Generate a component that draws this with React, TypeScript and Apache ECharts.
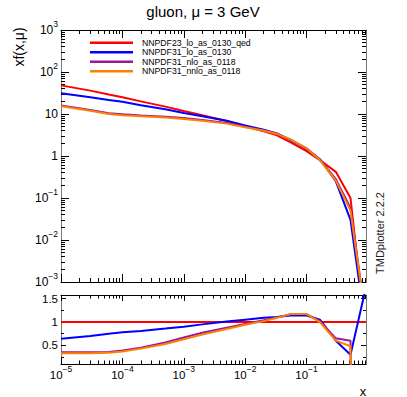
import React, { useEffect, useRef } from 'react';
import * as echarts from 'echarts';

// ---------- data ----------
const X_VALUES = [1e-5, 3e-5, 6e-5, 1e-4, 2e-4, 5e-4, 1e-3, 2e-3, 5e-3, 1e-2, 2e-2, 3.3e-2, 5.5e-2, 0.1, 0.165, 0.3, 0.52, 0.93];

const SERIES_NAMES = ['NNPDF23_lo_as_0130_qed', 'NNPDF31_lo_as_0130', 'NNPDF31_nlo_as_0118', 'NNPDF31_nnlo_as_0118'];
const SERIES_COLORS = ['#ff0000', '#0000ff', '#9a1a9a', '#ff8000'];

// x f(x, mu) at mu = 3 GeV
const RED_VALUES = [48, 36, 29, 25, 20, 15, 11.8, 9.3, 6.8, 5.1, 3.9, 3.1, 2.1, 1.3, 0.8, 0.42, 0.1, 4.5e-5];
const BLUE_VALUES = [31, 25, 21.5, 19.5, 16.2, 12.9, 10.6, 8.8, 6.9, 5.35, 4.25, 3.45, 2.4, 1.48, 0.84, 0.25, 0.03, 7e-5];
const PURPLE_VALUES = [16, 12.5, 10.4, 9.8, 9.2, 8.6, 8.0, 7.2, 6.1, 4.95, 4.05, 3.4, 2.45, 1.52, 0.82, 0.28, 0.058, 1.2e-4];
const ORANGE_VALUES = [15.2, 12, 10, 9.4, 8.8, 8.2, 7.6, 6.9, 5.9, 4.85, 4.0, 3.35, 2.45, 1.52, 0.8, 0.26, 0.05, 1.2e-4];

// ratio to NNPDF23_lo_as_0130_qed
const RED_RATIO = [1, 1, 1, 1, 1, 1, 1, 1, 1, 1, 1, 1, 1, 1, 1, 1, 1, 1];
const BLUE_RATIO = [0.64, 0.70, 0.75, 0.78, 0.81, 0.86, 0.90, 0.95, 1.01, 1.05, 1.09, 1.11, 1.14, 1.14, 1.05, 0.60, 0.30, 1.75];
const PURPLE_RATIO = [0.35, 0.35, 0.36, 0.39, 0.45, 0.56, 0.67, 0.77, 0.88, 0.96, 1.04, 1.10, 1.17, 1.17, 1.02, 0.65, 0.60, -40];
const ORANGE_RATIO = [0.33, 0.33, 0.34, 0.37, 0.43, 0.53, 0.63, 0.73, 0.85, 0.94, 1.02, 1.09, 1.17, 1.17, 1.00, 0.60, 0.48, -60];

const TOP_VALUES = [RED_VALUES, BLUE_VALUES, PURPLE_VALUES, ORANGE_VALUES];
const RATIO_VALUES = [RED_RATIO, BLUE_RATIO, PURPLE_RATIO, ORANGE_RATIO];

// axis ranges and tick labels
const X_MIN = 1e-5;
const X_MAX = 0.93;
const X_LABEL_TICKS = [1e-5, 1e-4, 1e-3, 1e-2, 1e-1];
const Y_TOP_MIN = 1e-3;
const Y_TOP_MAX = 1e3;
const Y_TOP_LABEL_TICKS = [1e-3, 1e-2, 1e-1, 1, 10, 100, 1000];
const Y_RATIO_MIN = 0.1;
const Y_RATIO_MAX = 1.58;
const Y_RATIO_LABEL_TICKS = [0.5, 1, 1.5];
const Y_RATIO_MINOR_TICKS = [0.25, 0.75, 1.25];

const TITLE = 'gluon, \u03bc = 3 GeV';
const Y_TITLE = 'xf(x,\u03bc)';
const X_TITLE = 'x';
const SIDE_TEXT = 'TMDplotter 2.2.2';

// ---------- helpers ----------
const FONT = "'Liberation Sans', Arial, Helvetica, sans-serif";
const lg = (v: number) => Math.log10(v);

function logMinor(min: number, max: number): number[] {
  const out: number[] = [];
  const lo = Math.floor(lg(min));
  const hi = Math.ceil(lg(max));
  for (let d = lo; d <= hi; d++) {
    for (let k = 2; k <= 9; k++) {
      const v = lg(k) + d;
      if (v > lg(min) && v < lg(max)) out.push(v);
    }
  }
  return out;
}

function powLabel(v: number): string {
  const e = Math.round(v);
  if (e === 0) return '{b|1}';
  if (e === 1) return '{b|10}';
  return `{b|10}{s|${e < 0 ? '\u2212' : ''}${Math.abs(e)}}`;
}

function richStyle(base: number, sup: number) {
  return {
    b: { fontSize: base, lineHeight: 22, verticalAlign: 'middle', fontFamily: FONT, color: '#000' },
    s: { fontSize: sup, lineHeight: 22, verticalAlign: 'top', fontFamily: FONT, color: '#000' },
  };
}

type AxOpt = {
  gridIndex: number;
  position: string;
  min: number;
  max: number;
  ticks: number[];
  tickLen: number;
  line?: string;
  label?: any;
};

function mkAxis(o: AxOpt) {
  return {
    type: 'value',
    gridIndex: o.gridIndex,
    position: o.position,
    min: o.min,
    max: o.max,
    axisLine: { show: !!o.line, onZero: false, lineStyle: { color: o.line || '#000', width: 1 } },
    axisTick: { show: true, inside: true, length: o.tickLen, customValues: o.ticks, lineStyle: { color: '#000', width: 1 } },
    axisLabel: o.label ? o.label : { show: false },
    splitLine: { show: false },
    minorTick: { show: false },
    axisPointer: { show: false },
  };
}

export default function App() {
  const ref = useRef<HTMLDivElement>(null);

  useEffect(() => {
    if (!ref.current) return;
    const chart = echarts.init(ref.current, undefined, { renderer: 'svg' });

    const xMin = lg(X_MIN);
    const xMax = lg(X_MAX);
    const xMajor = X_LABEL_TICKS.map(lg);
    const xMinor = logMinor(X_MIN, X_MAX);
    const yTMin = lg(Y_TOP_MIN);
    const yTMax = lg(Y_TOP_MAX);
    const yTMajor = Y_TOP_LABEL_TICKS.map(lg);
    const yTMinor = logMinor(Y_TOP_MIN, Y_TOP_MAX);

    const V_LINE = '#777';
    const H_LINE = '#000';

    const xAxes = [
      // grid 0 (upper panel)
      mkAxis({ gridIndex: 0, position: 'bottom', min: xMin, max: xMax, ticks: xMajor, tickLen: 8, line: H_LINE }),
      mkAxis({ gridIndex: 0, position: 'bottom', min: xMin, max: xMax, ticks: xMinor, tickLen: 4 }),
      mkAxis({ gridIndex: 0, position: 'top', min: xMin, max: xMax, ticks: xMajor, tickLen: 8, line: H_LINE }),
      mkAxis({ gridIndex: 0, position: 'top', min: xMin, max: xMax, ticks: xMinor, tickLen: 4 }),
      // grid 1 (ratio panel)
      mkAxis({
        gridIndex: 1, position: 'bottom', min: xMin, max: xMax, ticks: xMajor, tickLen: 6, line: H_LINE,
        label: {
          show: true, customValues: xMajor, margin: 0, formatter: (v: number) => powLabel(v),
          rich: richStyle(11.5, 8.5),
        },
      }),
      mkAxis({ gridIndex: 1, position: 'bottom', min: xMin, max: xMax, ticks: xMinor, tickLen: 3.5 }),
      mkAxis({ gridIndex: 1, position: 'top', min: xMin, max: xMax, ticks: xMajor, tickLen: 6, line: H_LINE }),
      mkAxis({ gridIndex: 1, position: 'top', min: xMin, max: xMax, ticks: xMinor, tickLen: 3.5 }),
    ];

    const yAxes = [
      mkAxis({
        gridIndex: 0, position: 'left', min: yTMin, max: yTMax, ticks: yTMajor, tickLen: 8, line: V_LINE,
        label: {
          show: true, customValues: yTMajor, margin: 3, formatter: (v: number) => powLabel(v),
          rich: richStyle(12, 8.5),
        },
      }),
      mkAxis({ gridIndex: 0, position: 'left', min: yTMin, max: yTMax, ticks: yTMinor, tickLen: 4 }),
      mkAxis({ gridIndex: 0, position: 'right', min: yTMin, max: yTMax, ticks: yTMajor, tickLen: 8, line: V_LINE }),
      mkAxis({ gridIndex: 0, position: 'right', min: yTMin, max: yTMax, ticks: yTMinor, tickLen: 4 }),
      mkAxis({
        gridIndex: 1, position: 'left', min: Y_RATIO_MIN, max: Y_RATIO_MAX, ticks: Y_RATIO_LABEL_TICKS, tickLen: 5, line: V_LINE,
        label: {
          show: true, customValues: Y_RATIO_LABEL_TICKS, margin: 3,
          formatter: (v: number) => String(v), fontSize: 11.5, fontFamily: FONT, color: '#000',
        },
      }),
      mkAxis({ gridIndex: 1, position: 'left', min: Y_RATIO_MIN, max: Y_RATIO_MAX, ticks: Y_RATIO_MINOR_TICKS, tickLen: 3 }),
      mkAxis({ gridIndex: 1, position: 'right', min: Y_RATIO_MIN, max: Y_RATIO_MAX, ticks: Y_RATIO_LABEL_TICKS, tickLen: 5, line: V_LINE }),
      mkAxis({ gridIndex: 1, position: 'right', min: Y_RATIO_MIN, max: Y_RATIO_MAX, ticks: Y_RATIO_MINOR_TICKS, tickLen: 3 }),
    ];

    const topSeries = SERIES_NAMES.map((name, i) => ({
      type: 'line',
      name,
      xAxisIndex: 0,
      yAxisIndex: 0,
      data: X_VALUES.map((x, j) => [lg(x), lg(TOP_VALUES[i][j])]),
      symbol: 'none',
      showSymbol: false,
      clip: true,
      color: SERIES_COLORS[i],
      itemStyle: { color: SERIES_COLORS[i] },
      lineStyle: { color: SERIES_COLORS[i], width: 2 },
      z: 2 + i,
    }));

    const ratioSeries = SERIES_NAMES.map((name, i) => ({
      type: 'line',
      name,
      xAxisIndex: 4,
      yAxisIndex: 4,
      data: X_VALUES.map((x, j) => [lg(x), RATIO_VALUES[i][j]]),
      symbol: 'none',
      showSymbol: false,
      clip: true,
      color: SERIES_COLORS[i],
      itemStyle: { color: SERIES_COLORS[i] },
      lineStyle: { color: SERIES_COLORS[i], width: 2 },
      z: 2 + i,
    }));

    chart.setOption({
      animation: false,
      backgroundColor: '#ffffff',
      textStyle: { fontFamily: FONT },
      grid: [
        { left: 61, top: 30, width: 305, height: 252, containLabel: false },
        { left: 61, top: 295, width: 305, height: 69, containLabel: false },
      ],
      xAxis: xAxes,
      yAxis: yAxes,
      legend: {
        data: SERIES_NAMES,
        orient: 'vertical',
        left: 90,
        top: 38,
        padding: 0,
        itemGap: 0,
        itemWidth: 43,
        itemHeight: 2.5,
        icon: 'rect',
        selectedMode: false,
        textStyle: { fontSize: 8.7, lineHeight: 9.5, fontFamily: FONT, color: '#000', padding: [0, 0, 0, 4] },
      },
      graphic: [
        {
          type: 'text', x: 203, y: 11,
          style: { text: TITLE, fontSize: 15, fontFamily: FONT, fill: '#000', align: 'center', verticalAlign: 'middle', textAlign: 'center', textVerticalAlign: 'middle' },
        },
        {
          type: 'text', x: 19, y: 47, rotation: Math.PI / 2,
          style: { text: Y_TITLE, fontSize: 14, fontFamily: FONT, fill: '#000', align: 'center', verticalAlign: 'middle', textAlign: 'center', textVerticalAlign: 'middle' },
        },
        {
          type: 'text', x: 363, y: 391,
          style: { text: X_TITLE, fontSize: 13, fontFamily: FONT, fill: '#000', align: 'center', verticalAlign: 'middle', textAlign: 'center', textVerticalAlign: 'middle' },
        },
        {
          type: 'text', x: 380, y: 233, rotation: Math.PI / 2,
          style: { text: SIDE_TEXT, fontSize: 11, fontFamily: FONT, fill: '#222', align: 'center', verticalAlign: 'middle', textAlign: 'center', textVerticalAlign: 'middle' },
        },
      ],
      series: [...topSeries, ...ratioSeries],
    });

    return () => {
      chart.dispose();
    };
  }, []);

  return (
    <div
      ref={ref}
      style={{ position: 'fixed', left: 0, top: 0, width: 407, height: 397, background: '#fff' }}
    />
  );
}
